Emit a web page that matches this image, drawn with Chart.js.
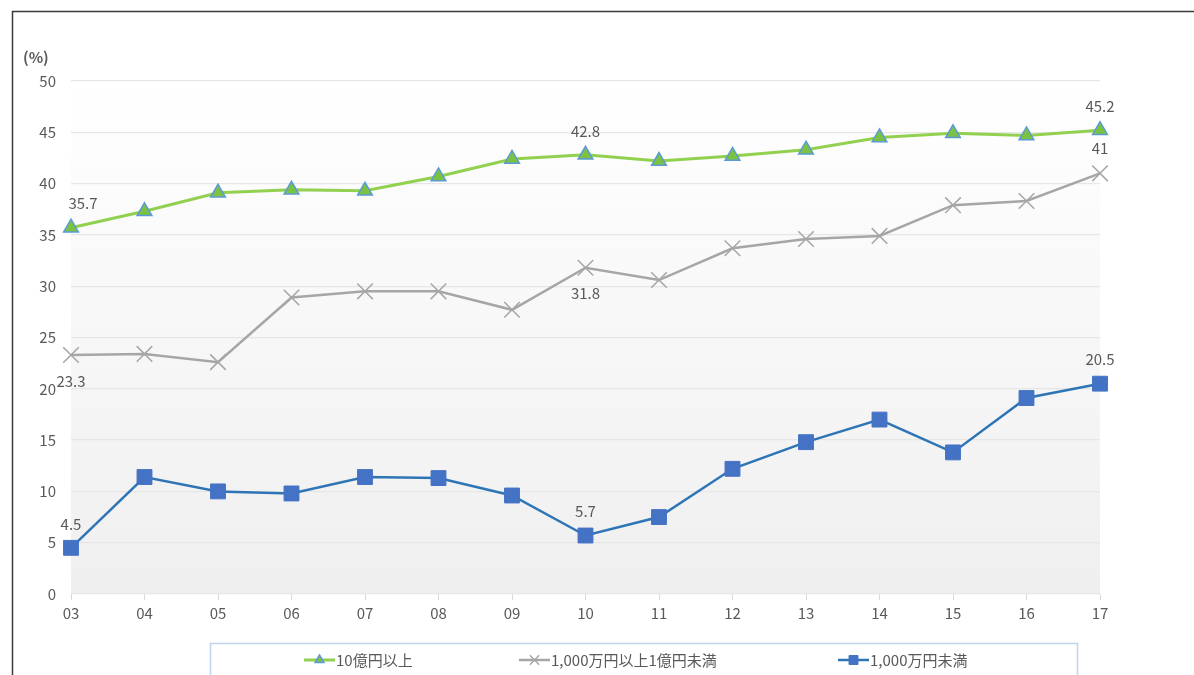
<!DOCTYPE html>
<html>
<head>
<meta charset="utf-8">
<script src="https://cdn.jsdelivr.net/npm/chart.js@4.4.1/dist/chart.umd.min.js"></script>
<style>
  html, body { margin:0; padding:0; background:#fff; }
  #wrap { width:1194px; height:675px; position:relative; }
</style>
</head>
<body>
<div id="wrap"><canvas id="chart"></canvas></div>
<script>
const years = ['03','04','05','06','07','08','09','10','11','12','13','14','15','16','17'];
const bigCo = [35.7,37.3,39.1,39.4,39.3,40.7,42.4,42.8,42.2,42.7,43.3,44.5,44.9,44.7,45.2];
const midCo = [23.3,23.4,22.6,28.9,29.5,29.5,27.7,31.8,30.6,33.7,34.6,34.9,37.9,38.3,41];
const smallCo = [4.5,11.4,10.0,9.8,11.4,11.3,9.6,5.7,7.5,12.2,14.8,17.0,13.8,19.1,20.5];
const seriesNames = ['10億円以上', '1,000万円以上1億円未満', '1,000万円未満'];
const yTicks = [0,5,10,15,20,25,30,35,40,45,50];

// which points carry a value label, and on which side
const labelled = [
  [{i:0, pos:'top', dx:12}, {i:7, pos:'top'}, {i:14, pos:'top'}],
  [{i:0, pos:'bottom'}, {i:7, pos:'bottom'}, {i:14, pos:'top', dy:-1}],
  [{i:0, pos:'top'}, {i:7, pos:'top'}, {i:14, pos:'top'}]
];

const FONT = '"Noto Sans CJK JP", "Noto Sans", sans-serif';
const TEXT = '#595959';

const frame = {
  id:'frame',
  beforeDraw(chart) {
    const {ctx, chartArea:a} = chart;
    ctx.save();
    const g = ctx.createLinearGradient(0, a.top, 0, a.bottom);
    g.addColorStop(0, '#ffffff');
    g.addColorStop(1, '#efefef');
    ctx.fillStyle = g;
    ctx.fillRect(a.left, a.top, a.right - a.left, a.bottom - a.top);
    ctx.restore();
  },
  afterDraw(chart) {
    const {ctx} = chart;
    ctx.save();
    // outer border
    ctx.strokeStyle = '#3a3a3a';
    ctx.lineWidth = 1.5;
    ctx.beginPath();
    ctx.moveTo(12.5, 675);
    ctx.lineTo(12.5, 11.5);
    ctx.lineTo(1194, 11.5);
    ctx.stroke();
    // unit
    ctx.fillStyle = TEXT;
    ctx.font = 'bold 15px ' + FONT;
    ctx.textBaseline = 'middle';
    ctx.fillText('(%)', 23, 57);

    // value labels
    ctx.font = '15px ' + FONT;
    ctx.textAlign = 'center';
    labelled.forEach((list, d) => {
      const meta = chart.getDatasetMeta(d);
      list.forEach(l => {
        const p = meta.data[l.i];
        const v = chart.data.datasets[d].data[l.i];
        const y = l.pos === 'top' ? p.y - 24 : p.y + 26;
        ctx.fillText(String(v), p.x + (l.dx || 0), y + (l.dy || 0));
      });
    });

    // legend box
    ctx.strokeStyle = '#bcd4ec';
    ctx.lineWidth = 1.5;
    ctx.strokeRect(210.5, 643.5, 867, 40);
    const items = [{x:304}, {x:519}, {x:838}];
    ctx.textAlign = 'left';
    ctx.font = '15px ' + FONT;
    items.forEach((it, d) => {
      const ds = chart.data.datasets[d];
      const cy = 660;
      ctx.strokeStyle = ds.borderColor;
      ctx.lineWidth = ds.borderWidth;
      ctx.beginPath();
      ctx.moveTo(it.x, cy);
      ctx.lineTo(it.x + 31, cy);
      ctx.stroke();
      ctx.fillStyle = ds.pointBackgroundColor;
      ctx.strokeStyle = ds.pointBorderColor;
      ctx.lineWidth = ds.pointBorderWidth;
      Chart.helpers.drawPoint(ctx, {
        pointStyle: ds.pointStyle,
        radius: ds.pointRadius * 0.6,
        rotation: 0,
        borderWidth: ds.pointBorderWidth
      }, it.x + 15.5, cy);
      ctx.fillStyle = TEXT;
      ctx.fillText(seriesNames[d], it.x + 32, cy);
    });
    ctx.restore();
  }
};

new Chart(document.getElementById('chart'), {
  type:'line',
  data:{
    labels: years,
    datasets:[
      {
        label: seriesNames[0],
        data: bigCo,
        borderColor:'#92d050',
        borderWidth:3,
        pointStyle:'triangle',
        pointRadius:8.5,
        pointBackgroundColor:'#7cc242',
        pointBorderColor:'#5b9bd5',
        pointBorderWidth:1.5,
        tension:0
      },
      {
        label: seriesNames[1],
        data: midCo,
        borderColor:'#a6a6a6',
        borderWidth:2.5,
        pointStyle:'crossRot',
        pointRadius:11,
        pointBackgroundColor:'#a6a6a6',
        pointBorderColor:'#a6a6a6',
        pointBorderWidth:1.5,
        tension:0
      },
      {
        label: seriesNames[2],
        data: smallCo,
        borderColor:'#2e75b6',
        borderWidth:2.5,
        pointStyle:'rect',
        pointRadius:10.5,
        pointBackgroundColor:'#4472c4',
        pointBorderColor:'#4472c4',
        pointBorderWidth:1,
        tension:0
      }
    ]
  },
  options:{
    responsive:true,
    maintainAspectRatio:false,
    animation:false,
    layout:{padding:{left:0, right:94, top:81, bottom:41}},
    plugins:{legend:{display:false}, tooltip:{enabled:false}},
    scales:{
      x:{
        offset:false,
        afterFit: s => { s.height = 40; },
        grid:{drawOnChartArea:false, color:'#d9d9d9', tickLength:6},
        border:{display:false},
        ticks:{color:TEXT, font:{family:FONT, size:15}, padding:4, maxRotation:0}
      },
      y:{
        min:0, max:50,
        afterFit: s => { s.width = 71; },
        afterBuildTicks: s => { s.ticks = yTicks.map(v => ({value:v})); },
        grid:{color:'#e6e6e6', drawTicks:false, lineWidth:1.2},
        border:{display:false},
        ticks:{color:TEXT, font:{family:FONT, size:15}, padding:15}
      }
    }
  },
  plugins:[frame]
});
</script>
</body>
</html>
